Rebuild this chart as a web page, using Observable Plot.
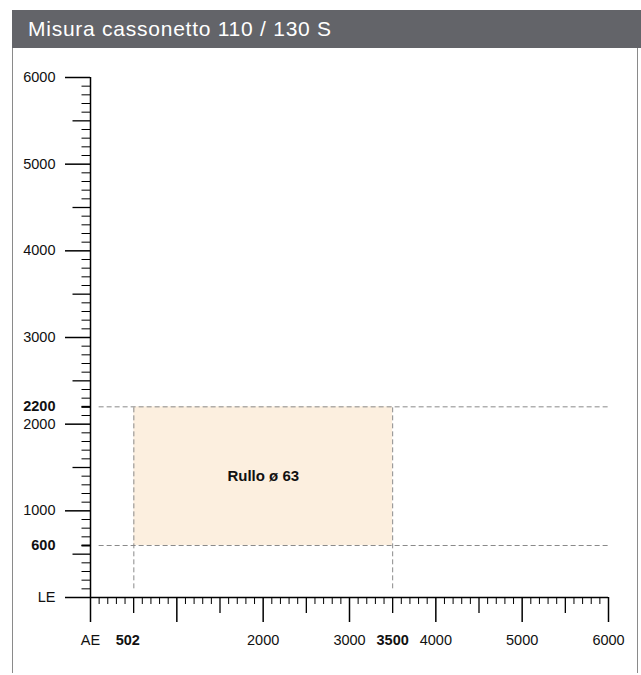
<!DOCTYPE html>
<html>
<head>
<meta charset="utf-8">
<script src="https://cdn.jsdelivr.net/npm/d3@7"></script>
<script src="https://cdn.jsdelivr.net/npm/@observablehq/plot@0.6"></script>
<style>
  html, body { margin: 0; padding: 0; background: #fff; }
  body { width: 641px; height: 675px; position: relative; overflow: hidden; font-family: "Liberation Sans", Arial, Helvetica, sans-serif; }
  #title { position: absolute; left: 12px; top: 10px; width: 629px; height: 38px; background: #636469; color: #fff;
           font-size: 21px; line-height: 38px; padding-left: 16px; box-sizing: border-box; letter-spacing: 0.75px; white-space: nowrap; }
  #lb { position: absolute; left: 12px; top: 48px; width: 1px; height: 625px; background: #8a8a8a; }
  #rb { position: absolute; left: 637px; top: 48px; width: 1px; height: 625px; background: #8a8a8a; }
  #chart { position: absolute; left: 0; top: 48px; }
  #chart svg { font-family: "Liberation Sans", Arial, Helvetica, sans-serif; }
</style>
</head>
<body>
<div id="title">Misura cassonetto 110 / 130 S</div>
<div id="lb"></div>
<div id="rb"></div>
<div id="chart"></div>
<script>
// ---- data ----
const titleText = "Misura cassonetto 110 / 130 S";
const domainMax = 6000;

// y axis (LE)
const yMajorTicks = [0, 1000, 2000, 3000, 4000, 5000, 6000];
const yMediumTicks = [500, 1500, 2500, 3500, 4500, 5500];
const yMinorTicks = d3.range(100, 6000, 100).filter(v => v % 500 !== 0);
const yBoldTicks = [600, 2200];
const yLabelValues = [0, 1000, 2000, 3000, 4000, 5000, 6000];
const yLabelTexts = ["LE", "1000", "2000", "3000", "4000", "5000", "6000"];
const yBoldLabelValues = [600, 2200];
const yBoldLabelTexts = ["600", "2200"];

// x axis (AE)
const xMajorTicks = [0, 1000, 2000, 3000, 4000, 5000, 6000];
const xMediumTicks = [500, 1500, 2500, 3500, 4500, 5500];
const xMinorTicks = d3.range(100, 6000, 100).filter(v => v % 500 !== 0);
const xLabelValues = [0, 2000, 3000, 4000, 5000, 6000];
const xLabelTexts = ["AE", "2000", "3000", "4000", "5000", "6000"];
const xBoldLabelValues = [502, 3500];
const xBoldLabelTexts = ["502", "3500"];

// region
const rectX = [502, 3500];
const rectY = [600, 2200];
const rectLabel = "Rullo ø 63";
const guideStart = 100;

document.getElementById("title").textContent = titleText;

const lab = (vals, texts) => d => texts[vals.indexOf(d)];
const FS = 14.5;

const plot = Plot.plot({
  width: 641,
  height: 627,
  marginLeft: 90,
  marginRight: 33,
  marginTop: 29,
  marginBottom: 78,
  x: {domain: [0, domainMax]},
  y: {domain: [0, domainMax]},
  marks: [
    Plot.rect([{x1: rectX[0], x2: rectX[1], y1: rectY[0], y2: rectY[1]}],
      {x1: "x1", x2: "x2", y1: "y1", y2: "y2", fill: "#fcefdf"}),
    Plot.ruleY(rectY, {x1: guideStart, x2: domainMax, stroke: "#8a8a8a", strokeDasharray: "5,3", strokeWidth: 1}),
    Plot.ruleX(rectX, {y1: guideStart, y2: rectY[1], stroke: "#8a8a8a", strokeDasharray: "5,3", strokeWidth: 1}),
    Plot.text([rectLabel], {x: d3.mean(rectX), y: d3.mean(rectY), text: d => d, fontWeight: "bold", fontSize: 15, fill: "#111"}),

    // y axis ticks
    Plot.axisY(yMinorTicks, {tickSize: 8.5, fill: "none", label: null, strokeWidth: 1}),
    Plot.axisY(yMediumTicks, {tickSize: 17.5, fill: "none", label: null, strokeWidth: 1.3}),
    Plot.axisY(yMajorTicks, {tickSize: 25, fill: "none", label: null, strokeWidth: 1.5}),
    Plot.axisY(yBoldTicks, {tickSize: 8.5, fill: "none", label: null, strokeWidth: 2}),
    Plot.axisY(yLabelValues, {tickSize: 0, tickPadding: 35, tickFormat: lab(yLabelValues, yLabelTexts), fontSize: FS, label: null, fill: "#111"}),
    Plot.axisY(yBoldLabelValues, {tickSize: 0, tickPadding: 35, tickFormat: lab(yBoldLabelValues, yBoldLabelTexts), fontSize: FS, fontWeight: "bold", label: null, fill: "#111"}),

    // x axis ticks
    Plot.axisX(xMinorTicks, {tickSize: 7, fill: "none", label: null, strokeWidth: 1}),
    Plot.axisX(xMediumTicks, {tickSize: 16, fill: "none", label: null, strokeWidth: 1.3}),
    Plot.axisX(xMajorTicks, {tickSize: 25, fill: "none", label: null, strokeWidth: 1.5}),
    Plot.axisX(xLabelValues, {tickSize: 0, tickPadding: 37, tickFormat: lab(xLabelValues, xLabelTexts), fontSize: FS, label: null, fill: "#111"}),
    Plot.axisX([xBoldLabelValues[0]], {tickSize: 0, tickPadding: 37, tickFormat: lab(xBoldLabelValues, xBoldLabelTexts), fontSize: FS, fontWeight: "bold", label: null, fill: "#111", dx: -6}),
    Plot.axisX([xBoldLabelValues[1]], {tickSize: 0, tickPadding: 37, tickFormat: lab(xBoldLabelValues, xBoldLabelTexts), fontSize: FS, fontWeight: "bold", label: null, fill: "#111"}),

    // axis lines
    Plot.ruleX([0], {y1: 0, y2: domainMax, strokeWidth: 1.5}),
    Plot.ruleY([0], {x1: 0, x2: domainMax, strokeWidth: 1.5})
  ]
});
document.getElementById("chart").appendChild(plot);
</script>
</body>
</html>
